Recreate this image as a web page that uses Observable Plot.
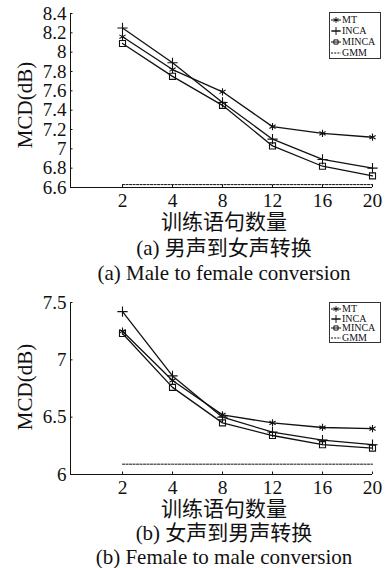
<!DOCTYPE html>
<html>
<head>
<meta charset="utf-8">
<script src="https://cdn.jsdelivr.net/npm/d3@7"></script>
<script src="https://cdn.jsdelivr.net/npm/@observablehq/plot@0.6"></script>
<style>
  html, body { margin: 0; padding: 0; background: #fff; }
  #root { position: relative; width: 387px; height: 568px; overflow: hidden;
          font-family: "Liberation Serif", "Noto Sans CJK SC", serif; color: #111; }
  .panel { position: absolute; left: 0; }
  .cap { position: absolute; transform: translateX(-50%); text-align: center; font-size: 21px;
         line-height: 20px; white-space: nowrap; }
  .legend { position: absolute; background: #fff; border: 1px solid #333; font-size: 10px;
            font-family: "Liberation Serif", serif; padding: 1px 2px 1px 1px; box-sizing: border-box; }
  .legend .row { display: flex; align-items: center; white-space: nowrap; }
  .legend svg { flex: none; margin-right: 1px; }
</style>
</head>
<body>
<div id="root"></div>
<script>
// ---------- data ----------
const counts = [2, 4, 8, 12, 16, 20];
const seriesNames = ["MT", "INCA", "MINCA", "GMM"];

// (a) male to female
const mtA    = [8.16, 7.82, 7.59, 7.23, 7.16, 7.12];
const incaA  = [8.25, 7.89, 7.48, 7.10, 6.89, 6.80];
const mincaA = [8.09, 7.75, 7.45, 7.03, 6.82, 6.72];
const gmmA   = 6.63;
const yTicksA = [6.6, 6.8, 7, 7.2, 7.4, 7.6, 7.8, 8, 8.2, 8.4];

// (b) female to male
const mtB    = [7.25, 6.82, 6.52, 6.45, 6.41, 6.40];
const incaB  = [7.42, 6.86, 6.50, 6.37, 6.30, 6.26];
const mincaB = [7.23, 6.76, 6.45, 6.34, 6.26, 6.23];
const gmmB   = 6.09;
const yTicksB = [6, 6.5, 7, 7.5];

const xLabel = "训练语句数量";
const capsA = ["(a) 男声到女声转换", "(a) Male to female conversion"];
const capsB = ["(b) 女声到男声转换", "(b) Female to male conversion"];

// ---------- helpers ----------
const symbols = {MT: "asterisk", INCA: "plus", MINCA: "square"};
const INK = "#111";

function makeTable(mt, inca, minca) {
  const rows = [];
  counts.forEach((c, i) => {
    rows.push({series: "MT", i, c, v: mt[i]});
    rows.push({series: "INCA", i, c, v: inca[i]});
    rows.push({series: "MINCA", i, c, v: minca[i]});
  });
  return rows;
}

function makeChart(mt, inca, minca, gmm, yTicks, yDomain, mTop, mBottom) {
  const rows = makeTable(mt, inca, minca);
  const gmmRows = counts.map((c, i) => ({i, v: gmm}));
  const xMin = -1.04, xMax = counts.length - 1;
  const y0 = yDomain[0];
  return Plot.plot({
    width: 387,
    height: 215,
    marginLeft: 70,
    marginRight: 15,
    marginTop: mTop,
    marginBottom: mBottom,
    style: {fontFamily: "Liberation Serif, serif", fontSize: "21px", color: INK, background: "white", overflow: "visible"},
    x: {type: "linear", domain: [xMin, xMax], axis: null},
    y: {domain: yDomain, axis: null},
    marks: [
      Plot.ruleY([y0], {x1: xMin, x2: xMax, stroke: INK, strokeWidth: 1}),
      Plot.ruleX([xMin], {y1: yDomain[0], y2: yDomain[1], stroke: INK, strokeWidth: 1}),
      Plot.axisX(d3.range(counts.length), {label: null, tickSize: 0, tickPadding: 6, tickFormat: i => String(counts[i]), fontSize: 19.5, color: INK}),
      Plot.axisX(d3.range(counts.length), {label: null, tickSize: 2.5, dy: -2.5, tickFormat: () => "", stroke: INK}),
      Plot.axisY(yTicks, {label: null, x: xMin, tickSize: 0, tickPadding: 4, tickFormat: d => String(d), fontSize: 19, color: INK}),
      Plot.axisY(yTicks, {label: null, x: xMin, tickSize: 2.5, dx: 2.5, tickFormat: () => "", stroke: INK}),
      Plot.line(gmmRows, {x: "i", y: "v", stroke: INK, strokeWidth: 1, strokeDasharray: "2.2,1.3"}),
      Plot.line(rows, {x: "i", y: "v", z: "series", stroke: INK, strokeWidth: 1.3}),
      Plot.dot(rows, {x: "i", y: "v", symbol: d => symbols[d.series], r: 3.4, stroke: INK, fill: "none", strokeWidth: 1.1})
    ]
  });
}

function legendSwatch(name) {
  const w = 10, h = 8;
  const s = d3.create("svg").attr("width", w).attr("height", h);
  if (name === "GMM") {
    s.append("line").attr("x1", 0).attr("x2", w).attr("y1", h / 2).attr("y2", h / 2)
      .attr("stroke", INK).attr("stroke-width", 1).attr("stroke-dasharray", "2,1.2");
  } else {
    s.append("line").attr("x1", 0).attr("x2", w).attr("y1", h / 2).attr("y2", h / 2)
      .attr("stroke", INK).attr("stroke-width", 1);
    const sym = {MT: d3.symbolAsterisk, INCA: d3.symbolPlus, MINCA: d3.symbolSquare2}[name];
    s.append("path").attr("transform", `translate(${w / 2},${h / 2})`)
      .attr("d", d3.symbol(sym, 22)).attr("fill", "none").attr("stroke", INK).attr("stroke-width", 1);
  }
  return s.node();
}

function makeLegend(left, top, w, h, rowH) {
  const div = document.createElement("div");
  div.className = "legend";
  Object.assign(div.style, {left: left + "px", top: top + "px", width: w + "px", height: h + "px"});
  seriesNames.forEach(n => {
    const r = document.createElement("div");
    r.className = "row";
    r.style.height = rowH + "px";
    r.style.lineHeight = rowH + "px";
    r.appendChild(legendSwatch(n));
    const t = document.createElement("span");
    t.textContent = n;
    r.appendChild(t);
    div.appendChild(r);
  });
  return div;
}

function addCap(text, centerY) {
  const d = document.createElement("div");
  d.className = "cap";
  d.style.left = "224px";
  d.style.top = (centerY - 10) + "px";
  d.textContent = text;
  root.appendChild(d);
}

function addYLabel(centerY) {
  const d = document.createElement("div");
  Object.assign(d.style, {position: "absolute", left: (25 - 60) + "px", top: (centerY - 12) + "px",
    width: "120px", textAlign: "center", fontSize: "21px", lineHeight: "24px",
    transform: "rotate(-90deg)", transformOrigin: "50% 50%", whiteSpace: "nowrap"});
  d.textContent = "MCD(dB)";
  root.appendChild(d);
}

const root = document.getElementById("root");

// panel (a)
const pa = makeChart(mtA, incaA, mincaA, gmmA, yTicksA, [6.6, 8.4], 13, 28);
pa.classList.add("panel"); pa.style.position = "absolute"; pa.style.top = "0px";
root.appendChild(pa);
addYLabel(105);
addCap(xLabel, 222);
addCap(capsA[0], 248);
addCap(capsA[1], 273);
root.appendChild(makeLegend(329, 12, 52, 47, 11));

// panel (b)
const pb = makeChart(mtB, incaB, mincaB, gmmB, yTicksB, [6, 7.5], 14, 29);
pb.classList.add("panel"); pb.style.position = "absolute"; pb.style.top = "288px";
root.appendChild(pb);
addYLabel(387);
addCap(xLabel, 509);
addCap(capsB[0], 533);
addCap(capsB[1], 557);
root.appendChild(makeLegend(329, 302, 52, 41, 9.7));
</script>
</body>
</html>
